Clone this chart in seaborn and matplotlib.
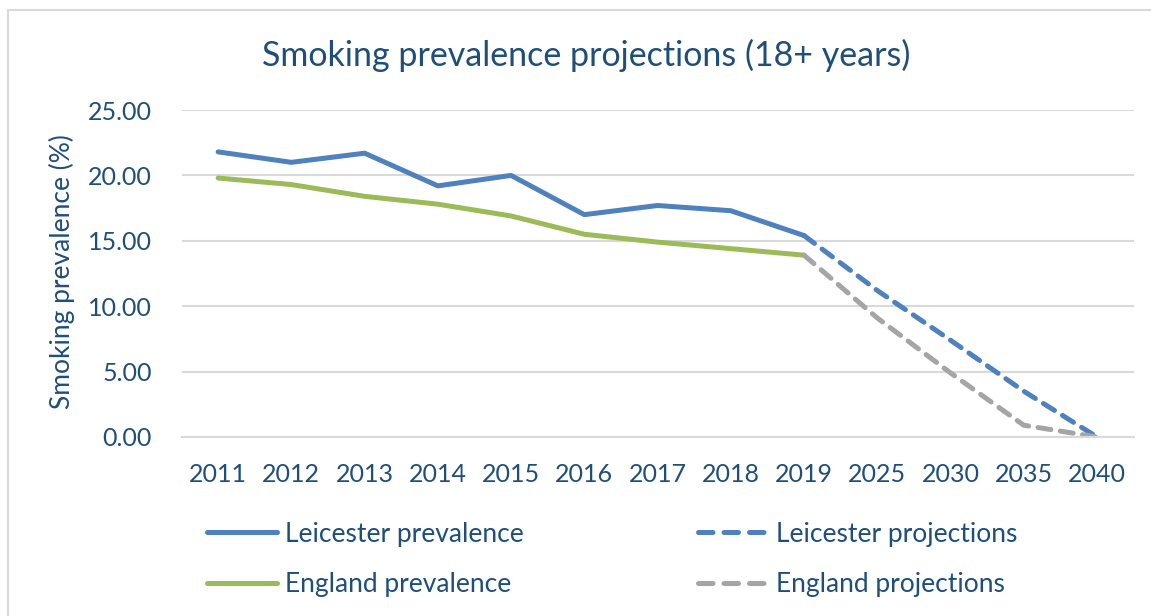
import matplotlib
matplotlib.use("Agg")
import matplotlib.pyplot as plt
import seaborn as sns
import pandas as pd
from matplotlib.patches import Rectangle

# Data
years_hist = ["2011", "2012", "2013", "2014", "2015", "2016", "2017", "2018", "2019"]
years_proj = ["2019", "2025", "2030", "2035", "2040"]
leicester_prev = [21.8, 21.0, 21.7, 19.2, 20.0, 17.0, 17.7, 17.3, 15.4]
england_prev = [19.8, 19.3, 18.4, 17.8, 16.9, 15.5, 14.9, 14.4, 13.9]
leicester_proj = [15.4, 11.2, 7.4, 3.5, 0.0]
england_proj = [13.9, 9.1, 4.9, 0.9, 0.0]

title = "Smoking prevalence projections (18+ years)"
ylabel = "Smoking prevalence (%)"

TEXT = "#1F4E79"
BLUE = "#4F81BD"
GREEN = "#9BBB59"
GREY = "#A5A5A5"
GRID = "#D9D9D9"

sns.set_theme(style="white")
plt.rcParams["font.family"] = ["Lato", "DejaVu Sans"]

fig = plt.figure(figsize=(11.51, 6.16), dpi=100)
ax = fig.add_axes([0.1577, 0.2906, 0.8272, 0.5308])

# Outer chart frame
fig.patches.append(Rectangle((8 / 1151, -0.05), 1.2, 1 - 10 / 616 + 0.05,
                             transform=fig.transFigure, fill=False,
                             edgecolor="#D9D9D9", linewidth=1.5, zorder=0))

series = [
    ("Leicester prevalence", years_hist, leicester_prev, BLUE, "-"),
    ("England prevalence", years_hist, england_prev, GREEN, "-"),
    ("Leicester projections", years_proj, leicester_proj, BLUE, (0, (2.6, 1.9))),
    ("England projections", years_proj, england_proj, GREY, (0, (2.6, 1.9))),
]

for name, xs, ys, color, ls in series:
    df = pd.DataFrame({"year": xs, "value": ys})
    sns.lineplot(data=df, x="year", y="value", ax=ax, color=color,
                 linewidth=3.6, linestyle=ls, label=name, sort=False)

for line in ax.get_lines():
    line.set_solid_capstyle("round")
    line.set_dash_capstyle("round")
    line.set_solid_joinstyle("round")

ax.set_ylim(0, 25)
ax.set_xlim(-0.5, 12.5)
ax.set_yticks([0, 5, 10, 15, 20, 25])
ax.set_yticklabels([f"{v:.2f}" for v in [0, 5, 10, 15, 20, 25]])
ax.yaxis.grid(True, color=GRID, linewidth=1.5)
ax.set_axisbelow(True)
for s in ["top", "right", "left"]:
    ax.spines[s].set_visible(False)
ax.spines["bottom"].set_color(GRID)
ax.spines["bottom"].set_linewidth(1.5)
ax.tick_params(axis="both", length=0, labelsize=18, labelcolor=TEXT)
ax.tick_params(axis="y", pad=21.5)
ax.tick_params(axis="x", pad=19)
ax.set_xlabel("")
ax.set_ylabel(ylabel, fontsize=19, color=TEXT)
ax.yaxis.set_label_coords(-0.112, 0.505)

fig.text(0.5096, 0.9107, title, ha="center", va="center", fontsize=24.5, color=TEXT)

handles, labels = ax.get_legend_handles_labels()
leg = ax.legend(handles, labels, ncol=2, loc="center left",
                bbox_to_anchor=(0.0016, -0.374), frameon=False, fontsize=19,
                handlelength=2.65, handletextpad=0.3, columnspacing=6.63,
                labelspacing=0.96, labelcolor=TEXT)
for h in leg.get_lines():
    h.set_linewidth(3.6)
    h.set_dash_capstyle("round")
    h.set_solid_capstyle("round")
    if h.get_linestyle() != "-":
        h.set_linestyle((0, (2.9, 2.2)))

fig.savefig("out.png", dpi=100)
